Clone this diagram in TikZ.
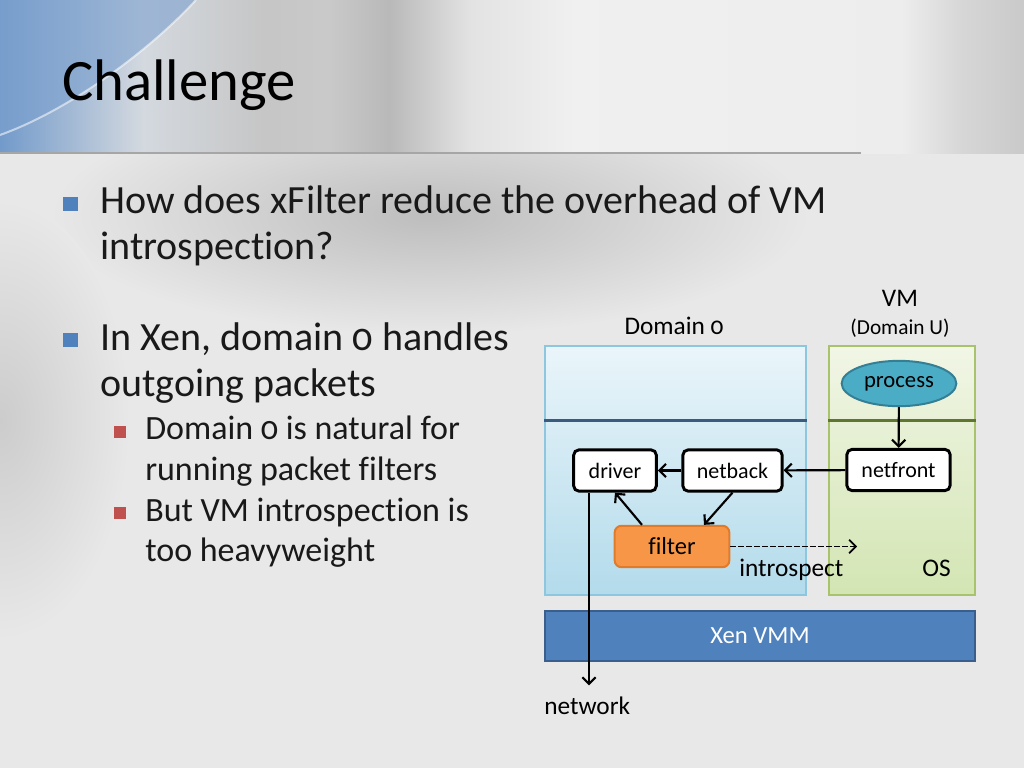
\documentclass[tikz,border=0pt]{standalone}
\usepackage{fontspec}
\setmainfont{Carlito}[Numbers=OldStyle, Ligatures=NoCommon]
\usepackage{xcolor}
\usetikzlibrary{arrows.meta,positioning,shapes.geometric,calc}

\definecolor{bgbase}{HTML}{E8E8E8}
\definecolor{bgshadow}{HTML}{BDBDBD}
\definecolor{bulletblue}{HTML}{4F81BD}
\definecolor{bulletred}{HTML}{C0504D}
\definecolor{domtop}{HTML}{EAF5FA}
\definecolor{dombot}{HTML}{B3DBEB}
\definecolor{domedge}{HTML}{8CC7DF}
\definecolor{domline}{HTML}{3B5A80}
\definecolor{vmtop}{HTML}{F1F6E6}
\definecolor{vmbot}{HTML}{D3E5B3}
\definecolor{vmedge}{HTML}{A8C36B}
\definecolor{vmline}{HTML}{5F7530}
\definecolor{processfill}{HTML}{4BACC6}
\definecolor{processedge}{HTML}{357F95}
\definecolor{filterfill}{HTML}{F79646}
\definecolor{filteredge}{HTML}{E07B2C}
\definecolor{xenfill}{HTML}{4F81BD}
\definecolor{xenedge}{HTML}{3A5F8C}

% header band: blue on the left, grey, light, grey again
\pgfdeclarehorizontalshading{headershade}{100bp}{%
  color(0bp)=(bulletblue!80!white);
  color(25bp)=(bulletblue!80!white);
  color(32bp)=(bulletblue!35!gray!30!white);
  color(38bp)=(gray!45!white);
  color(41bp)=(gray!42!white);
  color(44bp)=(gray!55!white);
  color(48bp)=(gray!22!white);
  color(53bp)=(gray!12!white);
  color(69bp)=(gray!14!white);
  color(72bp)=(gray!32!white);
  color(75bp)=(gray!42!white);
  color(100bp)=(gray!42!white)}

\begin{document}
\begin{tikzpicture}[x=0.75pt, y=-0.75pt,
  every node/.style={font=\fontsize{16.5}{19}\selectfont},
  bodytext/.style={font=\fontsize{30}{36}\selectfont, anchor=base west, inner sep=0pt, text=black!90},
  subtext/.style={font=\fontsize{25.5}{30}\selectfont, anchor=base west, inner sep=0pt, text=black!90},
  label/.style={font=\fontsize{19}{22}\selectfont, inner sep=0pt},
  comp/.style={draw=black, line width=2.2pt, fill=white, rounded corners=4pt,
    minimum height=31pt, inner sep=0pt},
  layer/.style={rectangle, line width=1pt, minimum height=186.75pt, inner sep=0pt},
  flow/.style={-{Straight Barb[length=5pt,width=10pt]}, line width=1.6pt}]

\useasboundingbox (0,0) rectangle (1024,768);

% background
\fill[bgbase] (0,0) rectangle (1024,768);
\shade[inner color=bgshadow, outer color=bgbase] (430,215) ellipse (380 and 120);
\shade[inner color=gray!40!white, outer color=bgbase] (0,420) ellipse (130 and 220);
\shade[shading=headershade] (0,0) rectangle (1024,153);
\fill[bulletblue!75!white, opacity=.6] (0,0) -- (196,0) .. controls (150,50) and (70,110) .. (0,135) -- cycle;
\draw[white, opacity=.55, line width=1.5pt] (196,0) .. controls (150,50) and (70,110) .. (0,135);
\draw[gray!70!white, line width=1.5pt] (0,153) -- (861,153);

% title and bullets
\node[anchor=base west, font=\fontsize{44}{50}\selectfont, inner sep=0pt] (title) at (62,100) {Challenge};

\fill[bulletblue] (63,197) rectangle (78,211);
\fill[bulletblue] (63,333) rectangle (78,347);
\fill[bulletred] (114,426) rectangle (126,438);
\fill[bulletred] (114,507) rectangle (126,519);

\foreach \y/\t in {213/How does xFilter reduce the overhead of VM, 259/introspection?,
                   350/{In Xen, domain 0 handles}, 396/outgoing packets}
  \node[bodytext] (line\y) at (100,\y) {\t};
\foreach \y/\t in {439/Domain 0 is natural for, 480/running packet filters,
                   521/But VM introspection is, 561/too heavyweight}
  \node[subtext] (sub\y) at (145,\y) {\t};

% domains
\node[layer, top color=domtop, bottom color=dombot, draw=domedge, minimum width=195.75pt] (dom0) at (675.5,470.5) {};
\node[layer, top color=vmtop, bottom color=vmbot, draw=vmedge, minimum width=109.5pt] (vm) at (902,470.5) {};
\draw[domline, line width=1.8pt] ($(dom0.north west)+(0,75)$) -- ($(dom0.north east)+(0,75)$);
\draw[vmline, line width=1.8pt] ($(vm.north west)+(0,75)$) -- ($(vm.north east)+(0,75)$);

\node[label, anchor=base] (dom0lab) at (674,334) {Domain 0};
\node[label, anchor=base] (vmlab) at (900,306) {VM};
\node[label, anchor=base, font=\fontsize{16}{19}\selectfont] (vmsub) at (900,334) {(Domain U)};

\node[ellipse, draw=processedge, fill=processfill, line width=1.5pt,
  minimum width=86pt, minimum height=34pt, inner sep=0pt,
  font=\fontsize{17}{20}\selectfont] (process) at (899,383.5) {process};
\node[comp, minimum width=62pt] (driver) at (615,470.5) {driver};
\node[comp, minimum width=74.5pt] (netback) at (732.5,470.5) {netback};
\node[comp, minimum width=77.5pt] (netfront) at (898.5,470) {netfront};
\node[draw=filteredge, fill=filterfill, line width=1.5pt, rounded corners=5pt,
  minimum width=86pt, minimum height=31pt, inner sep=0pt,
  font=\fontsize{18.4}{21}\selectfont] (filter) at (672,546.5) {filter};

\node[label, anchor=base west] (intro) at (739,576) {introspect};
\node[label, anchor=base west] (os) at (922,576) {OS};

\node[rectangle, draw=xenedge, fill=xenfill, line width=1.5pt, minimum width=322.5pt,
  minimum height=38pt, text=white, font=\fontsize{18.5}{21}\selectfont] (xen) at (760,636) {Xen VMM};
\node[label, anchor=base west, inner ysep=8pt] (network) at (544,714) {network};

% packet path
\coordinate (peek) at (857,546.5);
\draw[flow] (process) -- (netfront);
\draw[flow] (netfront) -- (netback);
\draw[flow] (netback) -- (driver);
\draw[flow] (netback.south) -- ([xshift=24pt]filter.north);
\draw[flow] ([xshift=-22.5pt]filter.north) -- (driver.south);
\draw[flow] ([xshift=-19.5pt]driver.south) -- ([xshift=-19.5pt]driver.south |- network.north);
\draw[flow, dash pattern=on 4pt off 2pt, line width=1.3pt] (filter) -- (peek);
\end{tikzpicture}
\end{document}
